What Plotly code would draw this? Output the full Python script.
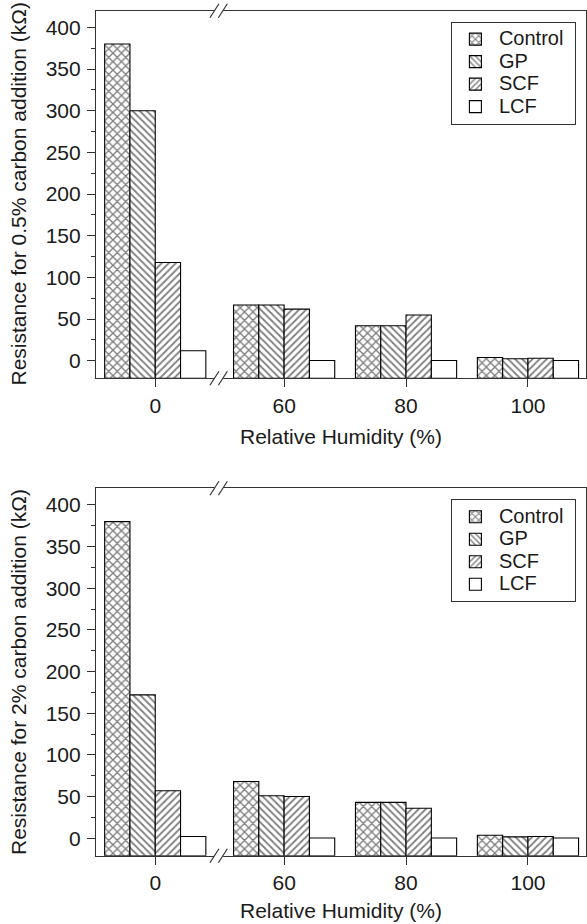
import plotly.graph_objects as go

# ---- data -------------------------------------------------------------
humidity = ["0", "60", "80", "100"]          # relative humidity categories (%)
series = ["Control", "GP", "SCF", "LCF"]

# resistance (kOhm), 0.5 % carbon addition
res_05 = {
    "Control": [380, 67, 42, 4],
    "GP":      [300, 67, 42, 2.5],
    "SCF":     [118, 62, 55, 3],
    "LCF":     [12, 0.3, 0.3, 0.3],
}
# resistance (kOhm), 2 % carbon addition
res_2 = {
    "Control": [380, 68, 43, 3.6],
    "GP":      [172, 51, 43, 1.6],
    "SCF":     [57, 50, 36, 2],
    "LCF":     [2, 0.3, 0.3, 0.3],
}

y_ticks = [0, 50, 100, 150, 200, 250, 300, 350, 400]
y_minor = [25, 75, 125, 175, 225, 275, 325, 375]

# ---- styling ----------------------------------------------------------
W, H = 587, 924
ML, MR = 96, 1
PLOT_W = W - ML - MR
# horizontal slot positions of the categories (axis break after "0")
xpos = [0.0, 1.057, 2.057, 3.057]
XR = [-0.486, 3.533]
YR = [-21, 420]
PX_X = (XR[1] - XR[0]) / PLOT_W             # data units per pixel along x

# panel vertical extents in pixels (top, bottom) and x-title offsets
panels = [(10.7, 378.3), (488.3, 855.7)]
xtitle_offsets = [58, 55]

def dom(top, bot):
    return [(H - bot) / H, (H - top) / H]

patterns = {
    "Control": dict(shape="x", size=6, solidity=0.4),
    "GP":      dict(shape="\\", size=5, solidity=0.36),
    "SCF":     dict(shape="/", size=5, solidity=0.36),
    "LCF":     dict(shape="", size=5, solidity=0.3),
}

FONT = "Liberation Sans, Arial, sans-serif"
INK = "#1a1a1a"
AX = "#333333"
LEG_TEXT = "<span style='font-size:20px'>%s&nbsp;</span>"

fig = go.Figure()

for pi, (data, legname) in enumerate([(res_05, "legend"), (res_2, "legend2")]):
    xa = "x" if pi == 0 else "x2"
    ya = "y" if pi == 0 else "y2"
    for s in series:
        vals = data[s]
        fig.add_trace(go.Bar(
            x=xpos,
            y=[v - YR[0] for v in vals],
            base=YR[0],
            name=LEG_TEXT % s,
            xaxis=xa, yaxis=ya,
            offsetgroup=s,
            legend=legname,
            marker=dict(
                color="white",
                line=dict(color="black", width=1.1),
                pattern=dict(fgcolor="black", bgcolor="white", **patterns[s]),
            ),
            customdata=vals,
            hovertemplate="%{customdata}<extra>" + s + "</extra>",
        ))

axis_common_x = dict(
    range=XR, tickmode="array", tickvals=xpos, ticktext=humidity,
    ticks="outside", ticklen=8, tickwidth=1.2, tickcolor=AX,
    showline=True, linecolor=AX, linewidth=1.2, mirror=True,
    showgrid=False, zeroline=False,
    tickfont=dict(family=FONT, size=21, color=INK),
    ticklabelstandoff=0,
)
axis_common_y = dict(
    range=YR, tickmode="array", tickvals=y_ticks,
    ticks="outside", ticklen=8, tickwidth=1.2, tickcolor=AX,
    minor=dict(ticks="outside", ticklen=4, tickwidth=1.2, tickcolor=AX,
               tickmode="array", tickvals=y_minor),
    showline=True, linecolor=AX, linewidth=1.2, mirror=True,
    showgrid=False, zeroline=False,
    tickfont=dict(family=FONT, size=21, color=INK),
    ticklabelstandoff=2,
)

legend_common = dict(
    xanchor="left", yanchor="top",
    bgcolor="white", bordercolor=AX, borderwidth=1.2,
    font=dict(family=FONT, size=15, color=INK),
    itemwidth=37, tracegroupgap=0,
)

fig.update_layout(
    width=W, height=H,
    margin=dict(l=ML, r=MR, t=0, b=0),
    paper_bgcolor="white", plot_bgcolor="white",
    barmode="group", bargap=0.17, bargroupgap=0,
    showlegend=True,
    xaxis=dict(domain=[0, 1], anchor="y", **axis_common_x),
    yaxis=dict(domain=dom(*panels[0]), anchor="x", **axis_common_y),
    xaxis2=dict(domain=[0, 1], anchor="y2", **axis_common_x),
    yaxis2=dict(domain=dom(*panels[1]), anchor="x2", **axis_common_y),
    legend=dict(x=(450.7 - ML) / PLOT_W, y=(H - 21.7) / H, **legend_common),
    legend2=dict(x=(450.7 - ML) / PLOT_W, y=(H - 499.3) / H, **legend_common),
)

# axis titles
ytitles = ["Resistance for 0.5% carbon addition (k\u03a9)",
           "Resistance for 2% carbon addition (k\u03a9)"]
for pi, (top, bot) in enumerate(panels):
    fig.add_annotation(
        text=ytitles[pi], textangle=-90, showarrow=False,
        xref="paper", yref="paper",
        x=(18 - ML) / PLOT_W, y=(H - (top + bot) / 2) / H,
        xanchor="center", yanchor="middle",
        font=dict(family=FONT, size=21, color=INK),
    )
    fig.add_annotation(
        text="Relative Humidity (%)", showarrow=False,
        xref="paper", yref="paper",
        x=0.5, y=(H - (bot + xtitle_offsets[pi])) / H,
        xanchor="center", yanchor="middle",
        font=dict(family=FONT, size=21, color=INK),
    )

# axis-break marks "//" on the bottom and top frame lines
BREAK_X = 0.52
for pi, (top, bot) in enumerate(panels):
    xr = "x" if pi == 0 else "x2"
    yr = "y domain" if pi == 0 else "y2 domain"
    ph = bot - top
    for yd in (0.0, 1.0):
        # gap in the frame line
        fig.add_shape(type="line", xref=xr, yref=yr,
                      x0=BREAK_X - 4.5 * PX_X, x1=BREAK_X + 4.5 * PX_X,
                      y0=yd, y1=yd, line=dict(color="white", width=3), layer="above")
        for off in (-4.2, 4.2):
            xc = BREAK_X + off * PX_X
            fig.add_shape(type="line", xref=xr, yref=yr,
                          x0=xc - 4.5 * PX_X, x1=xc + 4.5 * PX_X,
                          y0=yd - 7 / ph, y1=yd + 7 / ph,
                          line=dict(color=AX, width=1.2), layer="above")

fig.write_html("out.html")
